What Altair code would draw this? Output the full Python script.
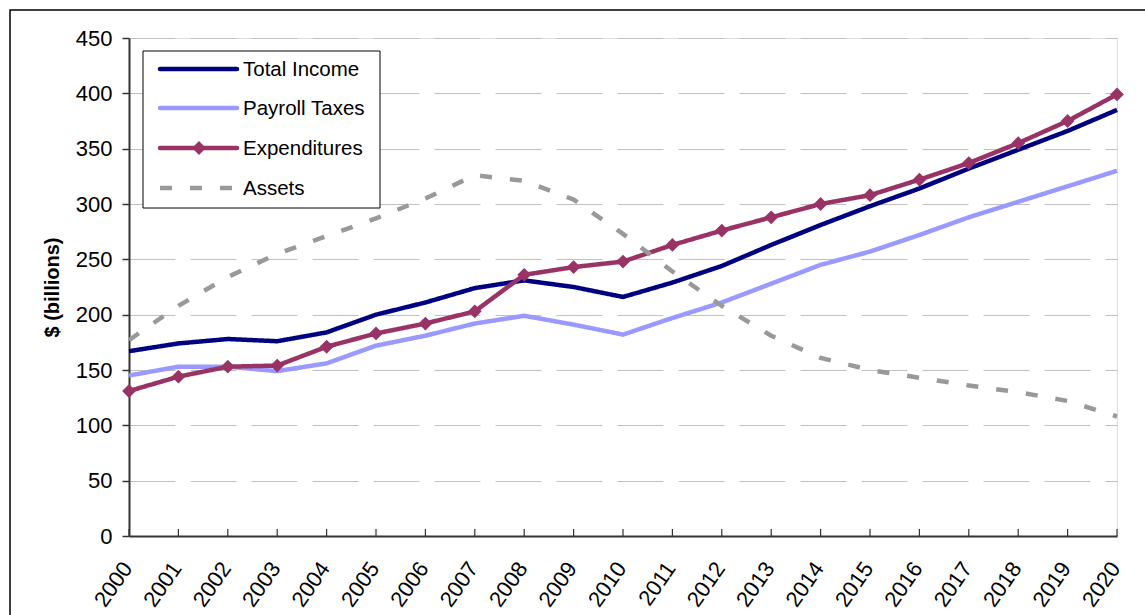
import altair as alt
import pandas as pd

years = list(range(2000, 2021))
total_income = [167, 174, 178, 176, 184, 200, 211, 224, 231, 225, 216, 229, 244, 263, 281, 298, 314, 332, 349, 366, 385]
payroll_taxes = [145, 153, 153, 149, 156, 172, 181, 192, 199, 191, 182, 197, 211, 228, 245, 257, 272, 288, 302, 316, 330]
expenditures = [131, 144, 153, 154, 171, 183, 192, 203, 236, 243, 248, 263, 276, 288, 300, 308, 322, 337, 355, 375, 399]
assets = [177, 208, 234, 255, 271, 287, 305, 326, 321, 304, 273, 239, 208, 181, 161, 150, 143, 136, 130, 122, 108]

series_names = ["Total Income", "Payroll Taxes", "Expenditures", "Assets"]
series_colors = ["#000080", "#9999FF", "#993366", "#999999"]
series_dash = [[1, 0], [1, 0], [1, 0], [12, 18]]
y_ticks = list(range(0, 451, 50))

FONT = "Liberation Sans"
W, H = 988, 498

rows = []
for name, vals in zip(series_names, [total_income, payroll_taxes, expenditures, assets]):
    for yr, v in zip(years, vals):
        rows.append({"year": yr, "value": v, "series": name})
df = pd.DataFrame(rows)

x_enc = alt.X("year:O", scale=alt.Scale(type="point", padding=0),
              axis=alt.Axis(title=None, labelAngle=-55, labelFontSize=22, labelFont=FONT,
                            labelColor="#000000", labelAlign="right", labelBaseline="middle",
                            labelPadding=28, labelOffset=-2, ticks=False,
                            domainColor="#333333", domainWidth=2, grid=False))
y_enc = alt.Y("value:Q", scale=alt.Scale(domain=[0, 450], nice=False),
              axis=alt.Axis(title="$ (billions)", values=y_ticks, labelFontSize=22, labelFont=FONT,
                            labelColor="#000000", labelPadding=10, tickSize=7, tickColor="#333333",
                            tickWidth=1.5, domainColor="#333333", domainWidth=2,
                            grid=True, gridColor="#c0c0c0", gridWidth=1, gridDash=[46, 15],
                            titleFont=FONT, titleFontSize=20, titleFontWeight="bold",
                            titleColor="#000000", titlePadding=13))

color_scale = alt.Scale(domain=series_names, range=series_colors)
dash_scale = alt.Scale(domain=series_names, range=series_dash)

lines = alt.Chart(df).mark_line(strokeWidth=4.5).encode(
    x=x_enc, y=y_enc,
    color=alt.Color("series:N", scale=color_scale, legend=None),
    strokeDash=alt.StrokeDash("series:N", scale=dash_scale, legend=None),
    order=alt.Order("year:Q"),
    detail="series:N",
)

points = alt.Chart(df).transform_filter(alt.datum.series == "Expenditures").mark_point(
    shape="diamond", filled=True, size=190, opacity=1, color="#993366"
).encode(x="year:O", y="value:Q")

xticks = alt.Chart(pd.DataFrame({"year": years})).mark_rule(color="#333333", strokeWidth=1.2).encode(
    x="year:O", y=alt.value(H - 7), y2=alt.value(H)
)

one = pd.DataFrame({"k": [0]})
layers = [lines, points, xticks]

# legend box
layers.append(alt.Chart(one).mark_rect(fill="white", stroke="#000000", strokeWidth=1).encode(
    x=alt.value(14), x2=alt.value(251), y=alt.value(13), y2=alt.value(170)))
row_y = [31, 70, 110, 150]
for i, name in enumerate(series_names):
    ry = row_y[i]
    layers.append(alt.Chart(one).mark_rule(
        color=series_colors[i], strokeWidth=4.5, strokeDash=series_dash[i], strokeCap="round" if i < 3 else "butt"
    ).encode(x=alt.value(31), x2=alt.value(108), y=alt.value(ry)))
    if name == "Expenditures":
        layers.append(alt.Chart(one).mark_point(shape="diamond", filled=True, size=190, opacity=1,
                                               color=series_colors[i]).encode(
            x=alt.value(70), y=alt.value(ry)))
    layers.append(alt.Chart(one).mark_text(align="left", baseline="middle", font=FONT, fontSize=20.5,
                                           color="#000000").encode(
        x=alt.value(114), y=alt.value(ry + 1), text=alt.value(name)))

# outer frame
layers.append(alt.Chart(one).mark_rect(fillOpacity=0, stroke="#000000", strokeWidth=1.5).encode(
    x=alt.value(-119), x2=alt.value(1200), y=alt.value(-28), y2=alt.value(700)))

chart = alt.layer(*layers).properties(
    width=W, height=H,
    autosize=alt.AutoSizeParams(type="none"),
    padding={"left": 129, "top": 38, "right": 28, "bottom": 79},
).configure_view(stroke="#888888", strokeWidth=2).configure(background="white")

chart.save("out.html", embed_options={"renderer": "svg", "actions": False})
